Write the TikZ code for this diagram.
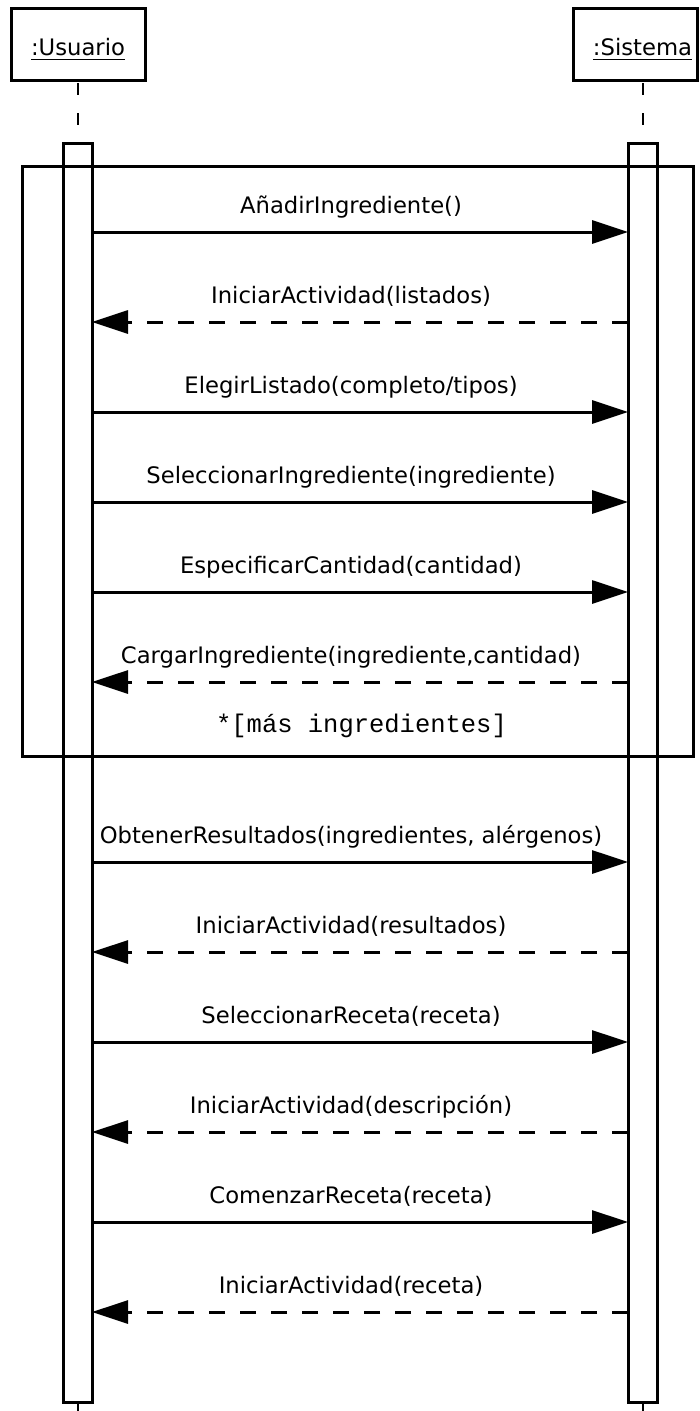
\documentclass[tikz,border=0pt]{standalone}
\usepackage{fontspec}
\usetikzlibrary{arrows.meta,calc}
\newfontfamily\msgfont{DejaVu Sans}
\newfontfamily\guardfont{Liberation Mono}
\begin{document}
\begin{tikzpicture}[x=1pt,y=-1pt,
  actorbox/.style={draw,line width=3pt,minimum height=72pt,inner sep=0pt,outer sep=0pt},
  actorlabel/.style={inner sep=0pt,outer sep=0pt,anchor=base,font=\msgfont\fontsize{22.7}{27}\selectfont},
  underbar/.style={line width=1.8pt},
  activation/.style={draw,line width=3pt,minimum width=29pt,minimum height=1259pt,inner sep=0pt,outer sep=0pt},
  lifeline/.style={line width=2pt,dash pattern=on 12pt off 18pt,dash phase=27pt},
  loopframe/.style={draw,line width=3pt,inner sep=0pt,outer sep=0pt},
  msglabel/.style={inner sep=0pt,anchor=base,font=\msgfont\fontsize{22.7}{27}\selectfont},
  guardlabel/.style={inner sep=0pt,anchor=base,font=\guardfont\fontsize{25.5}{30}\selectfont},
  call/.style={line width=3pt,-{Triangle[length=36pt,width=23pt]}},
  reply/.style={call,dash pattern=on 16pt off 15pt},
]
\useasboundingbox (0,0) rectangle (700,1411);

% participants
\node[actorbox,minimum width=134pt] (usr) at (78,44) {};
\node[actorbox,minimum width=124pt] (sys) at (635.5,44) {};
\node[actorlabel] (usrT) at (78,55) {:Usuario};
\node[actorlabel] (sysT) at (642.5,55) {:Sistema};
\draw[underbar] ($(usrT.base west)+(0,4.5)$) -- ($(usrT.base east)+(0,4.5)$);
\draw[underbar] ($(sysT.base west)+(0,4.5)$) -- ($(sysT.base east)+(0,4.5)$);

% loop fragment
\node[loopframe,minimum width=671pt,minimum height=590pt] (loop) at (357.5,461) {};

% activation bars
\node[activation] (ub) at (77.5,772.5) {};
\node[activation] (sb) at (642.5,772.5) {};

% lifelines
\coordinate (utop) at (78,80);
\coordinate (stop) at (643,80);
\coordinate (uend) at (78,1411);
\coordinate (send) at (643,1411);
\draw[lifeline] (utop) -- (utop |- ub.north);
\draw[lifeline] (stop) -- (stop |- sb.north);
\draw[lifeline,dash phase=0pt] (uend |- ub.south) -- (uend);
\draw[lifeline,dash phase=0pt] (send |- sb.south) -- (send);

% messages
\coordinate (m1) at (0,232);
\node[msglabel] (l1) at (351,213) {AñadirIngrediente()};
\draw[call] (ub.east |- m1) -- (sb.west |- m1);

\coordinate (m2) at (0,322);
\node[msglabel] (l2) at (351,303) {IniciarActividad(listados)};
\draw[reply] (sb.west |- m2) -- (ub.east |- m2);

\coordinate (m3) at (0,412);
\node[msglabel] (l3) at (351,393) {ElegirListado(completo/tipos)};
\draw[call] (ub.east |- m3) -- (sb.west |- m3);

\coordinate (m4) at (0,502);
\node[msglabel] (l4) at (351,483) {SeleccionarIngrediente(ingrediente)};
\draw[call] (ub.east |- m4) -- (sb.west |- m4);

\coordinate (m5) at (0,592);
\node[msglabel] (l5) at (351,573) {EspecificarCantidad(cantidad)};
\draw[call] (ub.east |- m5) -- (sb.west |- m5);

\coordinate (m6) at (0,682);
\node[msglabel] (l6) at (351,663) {CargarIngrediente(ingrediente,cantidad)};
\draw[reply] (sb.west |- m6) -- (ub.east |- m6);

\node[guardlabel] (guard) at (361.5,732) {*[más ingredientes]};

\coordinate (m7) at (0,862);
\node[msglabel] (l7) at (351,843) {ObtenerResultados(ingredientes, alérgenos)};
\draw[call] (ub.east |- m7) -- (sb.west |- m7);

\coordinate (m8) at (0,952);
\node[msglabel] (l8) at (351,933) {IniciarActividad(resultados)};
\draw[reply] (sb.west |- m8) -- (ub.east |- m8);

\coordinate (m9) at (0,1042);
\node[msglabel] (l9) at (351,1023) {SeleccionarReceta(receta)};
\draw[call] (ub.east |- m9) -- (sb.west |- m9);

\coordinate (m10) at (0,1132);
\node[msglabel] (l10) at (351,1113) {IniciarActividad(descripción)};
\draw[reply] (sb.west |- m10) -- (ub.east |- m10);

\coordinate (m11) at (0,1222);
\node[msglabel] (l11) at (351,1203) {ComenzarReceta(receta)};
\draw[call] (ub.east |- m11) -- (sb.west |- m11);

\coordinate (m12) at (0,1312);
\node[msglabel] (l12) at (351,1293) {IniciarActividad(receta)};
\draw[reply] (sb.west |- m12) -- (ub.east |- m12);
\end{tikzpicture}
\end{document}
